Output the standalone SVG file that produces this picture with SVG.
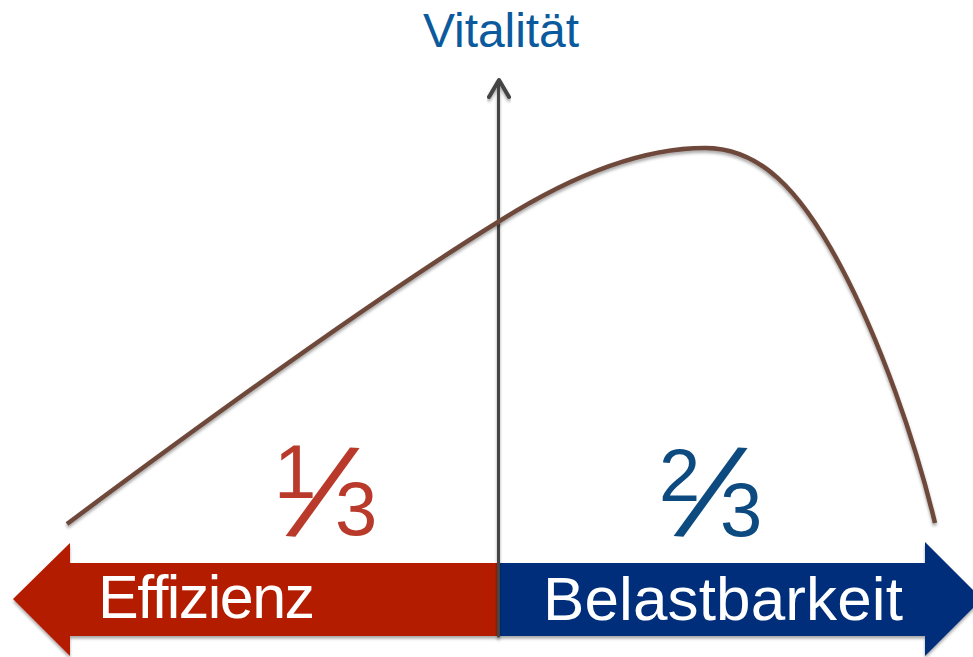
<svg xmlns="http://www.w3.org/2000/svg" width="973" height="657" viewBox="0 0 973 657">
  <style>
    .lbl { font-family: "Liberation Sans", Arial, sans-serif; }
    .bar { fill: #ffffff; }
    .frac { font-family: "Liberation Sans", Arial, sans-serif; }
    .red { fill: #b93a2b; }
    .blue { fill: #0c4a80; }
  </style>
  <defs>
    <filter id="sh" x="-10%" y="-10%" width="120%" height="130%">
      <feDropShadow dx="0" dy="2.5" stdDeviation="1.8" flood-color="#000" flood-opacity="0.35"/>
    </filter>
  </defs>
  <rect width="973" height="657" fill="#ffffff"/>

  <g id="arrow-effizienz" filter="url(#sh)">
    <polygon points="13,599 70,543 70,563 498,563 498,636 70,636 70,656" fill="#b41c00"/>
    <text class="lbl bar" x="98" y="618" font-size="61" textLength="217">Effizienz</text>
  </g>

  <g id="arrow-belastbarkeit" filter="url(#sh)">
    <polygon points="498,563 925,563 925,542 982,599 925,656 925,636 498,636" fill="#002f7a"/>
    <text class="lbl bar" x="543" y="620" font-size="62" textLength="360">Belastbarkeit</text>
  </g>

  <g id="connectors">
    <g id="axis" filter="url(#sh)" stroke="#444444" fill="none" stroke-linecap="round" stroke-linejoin="round">
      <line x1="498.5" y1="636" x2="498.5" y2="82" stroke-width="3"/>
      <polyline points="489,97 499,80 509,97" stroke-width="4"/>
    </g>
    <path id="curve" filter="url(#sh)" d="M67,524 C200,425 380,295 498,222 C580,170 650,148 705,148 C760,148 800,190 840,265 C880,340 915,440 935,523" fill="none" stroke="#6e4a3b" stroke-width="4.5"/>
  </g>

  <g id="title-vitalitaet">
    <text class="lbl" x="423" y="47" font-size="48" fill="#0b5a9e" textLength="156">Vitalität</text>
  </g>

  <g id="frac-one-third">
    <text class="frac red"><tspan x="274" y="498" font-size="76">1</tspan><tspan x="313" y="538" font-size="135" rotate="4">⁄</tspan><tspan x="335" y="535" font-size="76">3</tspan></text>
  </g>

  <g id="frac-two-thirds">
    <text class="frac blue"><tspan x="659" y="501" font-size="74">2</tspan><tspan x="701" y="538" font-size="135" rotate="4">⁄</tspan><tspan x="720" y="536" font-size="76">3</tspan></text>
  </g>
</svg>
